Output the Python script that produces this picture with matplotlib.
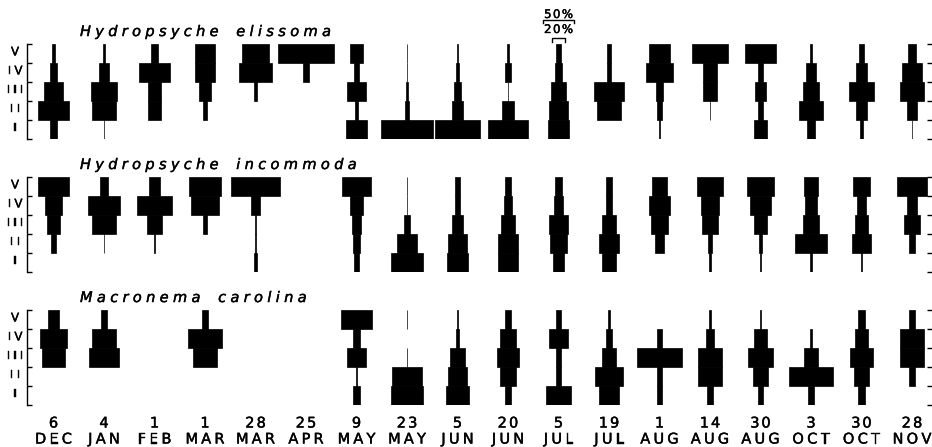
import matplotlib.pyplot as plt
import matplotlib.patheffects as pe

W, H = 932, 447

days = ['6', '4', '1', '1', '28', '25', '9', '23', '5', '20', '5', '19',
        '1', '14', '30', '3', '30', '28']
months = ['DEC', 'JAN', 'FEB', 'MAR', 'MAR', 'APR', 'MAY', 'MAY', 'JUN', 'JUN',
          'JUL', 'JUL', 'AUG', 'AUG', 'AUG', 'OCT', 'OCT', 'NOV']
instars = ['V', 'IV', 'III', 'II', 'I']

# % of larvae in each instar (V, IV, III, II, I) per sampling date
elissoma = [
    [4, 11, 30, 49, 11], [4, 16, 42, 38, 1], [10, 50, 21, 21, 0],
    [31, 31, 19, 5, 0], [43, 52, 4, 0, 0], [90, 10, 0, 0, 0],
    [21, 7, 29, 6, 33], [1, 1, 2, 7, 82], [1, 4, 10, 16, 70],
    [2, 8, 1, 20, 63], [8, 11, 24, 29, 33], [5, 7, 48, 39, 0],
    [32, 43, 12, 8, 3], [57, 21, 21, 1, 0], [49, 8, 18, 9, 21],
    [2, 15, 24, 39, 13], [8, 16, 41, 16, 6], [13, 32, 39, 16, 1],
]
incommoda = [
    [48, 28, 21, 8, 0], [12, 51, 38, 1, 0], [16, 57, 23, 1, 0],
    [51, 43, 5, 0, 0], [79, 14, 1, 1, 4], None,
    [47, 20, 15, 10, 7], [1, 1, 10, 32, 50], [7, 9, 16, 29, 34],
    [8, 12, 23, 32, 32], [11, 15, 31, 28, 16], [8, 8, 21, 33, 23],
    [25, 33, 26, 14, 0], [41, 30, 26, 5, 2], [42, 34, 21, 4, 1],
    [22, 20, 25, 50, 2], [28, 13, 22, 31, 2], [49, 16, 25, 11, 0],
]
carolina = [
    [19, 42, 38, 0, 0], [10, 39, 48, 0, 0], None,
    [11, 54, 37, 0, 0], None, None,
    [48, 10, 29, 3, 10], [1, 0, 1, 49, 51], [1, 6, 24, 29, 35],
    [9, 25, 35, 25, 9], [8, 31, 9, 9, 41], [2, 8, 22, 44, 31],
    [0, 8, 70, 9, 9], [2, 14, 37, 37, 9], [2, 20, 41, 23, 8],
    [0, 2, 22, 69, 8], [10, 20, 38, 23, 10], [8, 37, 37, 11, 0],
]
species = ['Hydropsyche elissoma', 'Hydropsyche incommoda', 'Macronema carolina']
panel_data = [elissoma, incommoda, carolina]

# layout in pixels
tops = [44, 177, 310]
row_h = 19
x0, step = 53.5, 50.5          # first column centre, column spacing
pct = 0.63 / step              # column units per percent

fig = plt.figure(figsize=(W / 100, H / 100), dpi=100)
plt.rcParams['font.family'] = 'DejaVu Sans'
heavy = [pe.withStroke(linewidth=0.3, foreground='black')]


def spaced(ax, x, y, s, track, ha='left', space=8, **kw):
    # draw lettering one glyph at a time with extra tracking (x in px)
    r = fig.canvas.get_renderer()
    tr = ax.get_yaxis_transform()
    parts = []
    for ch in s:
        if ch == ' ':
            parts.append((None, space))
        else:
            t = ax.text(0, y, ch, transform=tr, ha='left', va='baseline',
                        path_effects=heavy, **kw)
            parts.append((t, t.get_window_extent(r).width))
    total = sum(w for _, w in parts) + track * (len(parts) - 1)
    if ha == 'center':
        x -= total / 2
    for t, w in parts:
        if t is not None:
            t.set_x(x / W)
        x += w + track


axes = []
for k, (name, data) in enumerate(zip(species, panel_data)):
    ax = fig.add_axes([0, 1 - (tops[k] + 5 * row_h) / H, 1, 5 * row_h / H])
    ax.set_xlim(-x0 / step, (W - x0) / step)
    ax.set_ylim(5, 0)
    for i, col in enumerate(data):
        if col is None:
            continue
        for r, p in enumerate(col):
            if p > 0:
                w = p * pct
                ax.barh(r + 0.5, w, left=i - w / 2, height=1.0,
                        color='black', edgecolor='black', linewidth=0.5)

    for s in ['top', 'bottom', 'right']:
        ax.spines[s].set_visible(False)
    ax.spines['left'].set_position(('data', (27.5 - x0) / step))
    ax.spines['left'].set_linewidth(1.0)
    ax.set_xticks([])
    ax.set_yticks(range(6))
    ax.tick_params(axis='y', direction='in', length=3.5, width=1,
                   left=True, right=True, labelleft=False)

    for r, lab in enumerate(instars):
        spaced(ax, 15, r + 0.6, lab, 3.4, ha='center', fontsize=8.5)
    spaced(ax, 80, -0.42, name, 4.3, space=9, fontsize=10.5, style='italic')
    axes.append(ax)

# date labels under the last panel
ax = axes[2]
for i in range(len(days)):
    xc = x0 + i * step
    spaced(ax, xc, (427.5 - tops[2]) / row_h, days[i], 2.0, ha='center', fontsize=10.5)
    spaced(ax, xc, (443.5 - tops[2]) / row_h, months[i], 3.2, ha='center', fontsize=10.5)

# width scale bars above the 5 JUL column
ax = axes[0]
lc = 10
for val, y_txt, y_bar in [(50, -1.37, -1.26), (20, -0.58, -0.29)]:
    hw = val * pct / 2
    ax.plot([lc - hw, lc - hw, lc + hw, lc + hw],
            [y_bar + 0.16, y_bar, y_bar, y_bar + 0.16],
            color='black', lw=1, clip_on=False)
    spaced(ax, x0 + lc * step, y_txt, f'{val}%', 1.5, ha='center', fontsize=8.5)

fig.savefig('out.png', dpi=100, facecolor='white')
